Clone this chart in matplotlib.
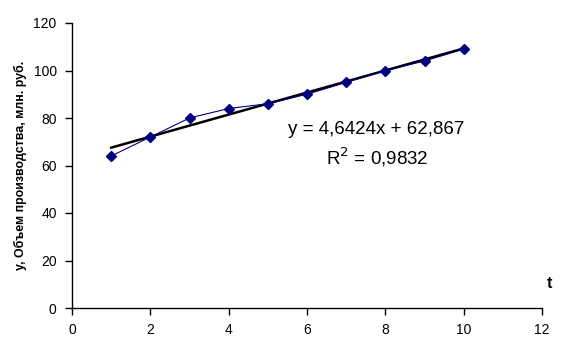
import matplotlib
matplotlib.use("Agg")
import matplotlib.pyplot as plt
import numpy as np

plt.rcParams['font.family'] = ['Liberation Sans', 'DejaVu Sans']

t = [1, 2, 3, 4, 5, 6, 7, 8, 9, 10]
y = [64, 72, 80, 84, 86, 90, 95, 100, 104, 109]
x_ticks = [0, 2, 4, 6, 8, 10, 12]
y_ticks = [0, 20, 40, 60, 80, 100, 120]

fig = plt.figure(figsize=(5.77, 3.58), dpi=100)
ax = fig.add_axes([72/577, 50/358, 470/577, 285/358])

ax.plot(t, y, color='#000080', lw=0.8, marker='D', ms=5, mfc='#000080', mec='#000080', zorder=3)
coef = np.polyfit(t, y, 1)
tx = np.array([t[0], t[-1]])
ax.plot(tx, np.polyval(coef, tx), color='black', lw=1.8, zorder=2)

ax.set_xlim(0, 12)
ax.set_ylim(0, 120)
ax.set_xticks(x_ticks)
ax.set_yticks(y_ticks)
ax.tick_params(axis='both', direction='out', length=5, width=1, labelsize=10, pad=6)
for s in ['top', 'right']:
    ax.spines[s].set_visible(False)
for s in ['left', 'bottom']:
    ax.spines[s].set_linewidth(1)

fig.text(20/577, 1 - 165/358, 'у, Объем производства, млн. руб.', fontsize=8.9,
         fontweight='bold', rotation=90, ha='center', va='center')
fig.text(549/577, 1 - 283/358, 't', fontsize=11.5, fontweight='bold', ha='center', va='center')

fig.text(376/577, 1 - 130/358, 'y = 4,6424x + 62,867', fontsize=13.5, ha='center', va='center')
fig.text(377/577, 1 - 157/358, 'R$^2$ = 0,9832', fontsize=13.5, ha='center', va='center')

fig.savefig('out.png', dpi=100)
